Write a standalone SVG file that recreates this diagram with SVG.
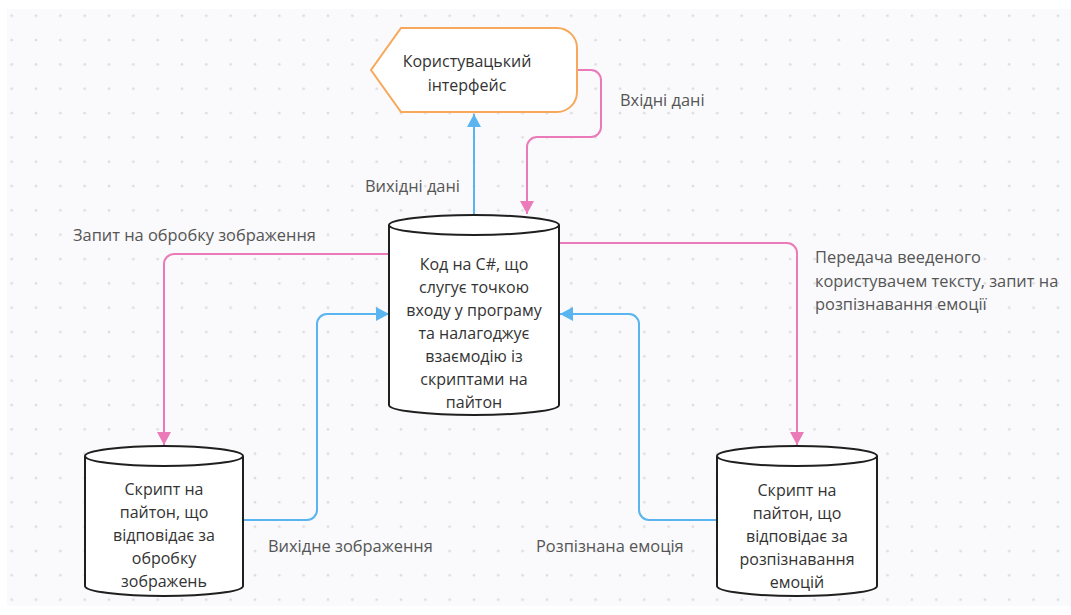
<svg xmlns="http://www.w3.org/2000/svg" width="1071" height="615" viewBox="0 0 1071 615">
<style>
.node text{font-family:"Open Sans","Noto Sans",sans-serif;font-size:16px;fill:#333;text-anchor:middle}
.lbl{font-family:"Open Sans","Noto Sans",sans-serif;font-size:16.4px;fill:#555}
.cyl{fill:#fff;stroke:#1f1f1f;stroke-width:2}
.pink{fill:none;stroke:#ea7bb8;stroke-width:2}
.blue{fill:none;stroke:#5ab4ef;stroke-width:2}
</style>
<defs>
<pattern id="dots" patternUnits="userSpaceOnUse" width="24.33" height="24.33">
<circle cx="11.7" cy="15.7" r="1.3" fill="#dddde0"/>
</pattern>
<marker id="ap" markerUnits="userSpaceOnUse" markerWidth="14" markerHeight="14" refX="13" refY="7" orient="auto">
<path d="M0,0 L13,7 L0,14 z" fill="#ea7bb8"/>
</marker>
<marker id="ab" markerUnits="userSpaceOnUse" markerWidth="14" markerHeight="14" refX="13" refY="7" orient="auto">
<path d="M0,0 L13,7 L0,14 z" fill="#5ab4ef"/>
</marker>
</defs>
<rect x="0" y="0" width="1071" height="615" fill="#fff"/>
<rect x="7" y="9" width="1064" height="597" fill="#fafafc"/>
<rect x="7" y="9" width="1064" height="597" fill="url(#dots)"/>

<g id="connectors">
<path class="blue" d="M474 215 V114" marker-end="url(#ab)"/>
<path class="pink" d="M578 70 H591 A10 10 0 0 1 601 80 V127 A10 10 0 0 1 591 137 H537 A10 10 0 0 0 527 147 V214" marker-end="url(#ap)"/>
<path class="pink" d="M389 254 H174 A10 10 0 0 0 164 264 V445" marker-end="url(#ap)"/>
<path class="blue" d="M243 520 H307 A10 10 0 0 0 317 510 V324 A10 10 0 0 1 327 314 H389" marker-end="url(#ab)"/>
<path class="pink" d="M559 243 H787 A10 10 0 0 1 797 253 V445" marker-end="url(#ap)"/>
<path class="blue" d="M717 520 H649 A10 10 0 0 1 639 510 V324 A10 10 0 0 0 629 314 H560" marker-end="url(#ab)"/>
<text class="lbl" x="365" y="192">Вихідні дані</text>
<text class="lbl" x="620" y="106">Вхідні дані</text>
<text class="lbl" x="73" y="241">Запит на обробку зображення</text>
<text class="lbl" x="815" y="263">Передача вееденого</text>
<text class="lbl" x="815" y="287">користувачем тексту, запит на</text>
<text class="lbl" x="815" y="310">розпізнавання емоції</text>
<text class="lbl" x="268" y="552">Вихідне зображення</text>
<text class="lbl" x="536" y="552">Розпізнана емоція</text>
</g>

<g id="ui" class="node">
<path d="M401 28 H557 A20 20 0 0 1 577 48 V92 A20 20 0 0 1 557 112 H401 L371 70 Z" fill="#fff" stroke="#f7a85a" stroke-width="2"/>
<text x="467" y="67">Користувацький</text>
<text x="467" y="91">інтерфейс</text>
</g>

<g id="main" class="node">
<path class="cyl" d="M389 225 V405 A85 10 0 0 0 559 405 V225"/>
<ellipse class="cyl" cx="474" cy="225" rx="85" ry="10"/>
<text x="474" y="270">Код на С#, що</text>
<text x="474" y="293">слугує точкою</text>
<text x="474" y="316">входу у програму</text>
<text x="474" y="339">та налагоджує</text>
<text x="474" y="362">взаємодію із</text>
<text x="474" y="385">скриптами на</text>
<text x="474" y="408">пайтон</text>
</g>

<g id="img" class="node">
<path class="cyl" d="M85 456 V586 A79 10 0 0 0 243 586 V456"/>
<ellipse class="cyl" cx="164" cy="456" rx="79" ry="10"/>
<text x="164" y="495">Скрипт на</text>
<text x="164" y="518">пайтон, що</text>
<text x="164" y="541">відповідає за</text>
<text x="164" y="564">обробку</text>
<text x="164" y="587">зображень</text>
</g>

<g id="emo" class="node">
<path class="cyl" d="M717 456 V586 A80 10 0 0 0 877 586 V456"/>
<ellipse class="cyl" cx="797" cy="456" rx="80" ry="10"/>
<text x="797" y="496">Скрипт на</text>
<text x="797" y="519">пайтон, що</text>
<text x="797" y="542">відповідає за</text>
<text x="797" y="565">розпізнавання</text>
<text x="797" y="588">емоцій</text>
</g>
</svg>
